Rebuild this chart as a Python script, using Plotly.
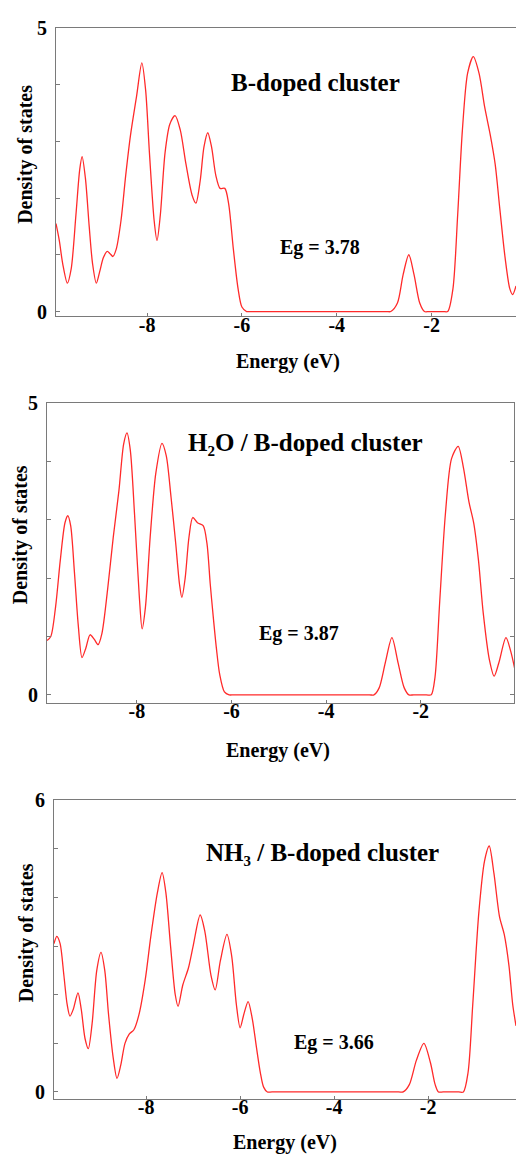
import plotly.graph_objects as go

# ---------------- data ----------------
e1 = [-9.92, -9.85, -9.78, -9.68, -9.60, -9.50, -9.42, -9.37, -9.30, -9.22, -9.15, -9.07,
      -9.00, -8.92, -8.84, -8.78, -8.72, -8.65, -8.55, -8.45, -8.35, -8.22, -8.11, -8.03,
      -7.95, -7.85, -7.79, -7.72, -7.62, -7.52, -7.41, -7.30, -7.18, -7.05, -6.97, -6.88,
      -6.80, -6.72, -6.64, -6.55, -6.46, -6.36, -6.28, -6.18, -6.08, -6.00, -5.90, -5.80,
      -2.96, -2.86, -2.72, -2.60, -2.48, -2.37, -2.25, -2.15, -2.05, -1.76, -1.66, -1.55,
      -1.45, -1.35, -1.24, -1.12, -1.00, -0.88, -0.76, -0.66, -0.56, -0.45, -0.35, -0.29, -0.22]
d1 = [1.55, 1.25, 0.85, 0.50, 0.75, 1.70, 2.50, 2.73, 2.35, 1.50, 0.85, 0.50,
      0.70, 0.95, 1.06, 1.02, 0.97, 1.10, 1.60, 2.40, 3.10, 3.80, 4.38, 3.90,
      2.80, 1.60, 1.25, 1.70, 2.80, 3.30, 3.45, 3.20, 2.60, 2.05, 1.91, 2.30,
      2.90, 3.15, 2.90, 2.40, 2.17, 2.17, 1.90, 1.10, 0.40, 0.08, 0.00, 0.00,
      0.00, 0.00, 0.15, 0.65, 1.00, 0.65, 0.15, 0.00, 0.00, 0.00, 0.00, 0.40,
      1.70, 3.20, 4.20, 4.49, 4.20, 3.60, 3.10, 2.60, 1.80, 0.95, 0.40, 0.30, 0.45]

e2 = [-9.90, -9.82, -9.72, -9.62, -9.52, -9.46, -9.40, -9.32, -9.24, -9.16, -9.08, -8.99,
      -8.90, -8.82, -8.74, -8.62, -8.50, -8.38, -8.28, -8.21, -8.14, -8.05, -7.95, -7.89,
      -7.82, -7.72, -7.60, -7.47, -7.38, -7.28, -7.18, -7.10, -7.05, -6.98, -6.90, -6.82,
      -6.72, -6.60, -6.52, -6.45, -6.39, -6.32, -6.25, -6.15, -6.05, -5.95,
      -3.09, -2.99, -2.88, -2.75, -2.61, -2.48, -2.35, -2.25, -2.15, -1.88, -1.78, -1.70,
      -1.60, -1.48, -1.35, -1.21, -1.10, -0.98, -0.88, -0.78, -0.68, -0.55, -0.45, -0.35,
      -0.20, -0.10, 0.01]
d2 = [0.93, 1.00, 1.50, 2.30, 2.95, 3.07, 2.90, 2.10, 1.20, 0.64, 0.80, 1.03,
      0.95, 0.86, 1.05, 1.80, 2.70, 3.50, 4.30, 4.49, 4.20, 3.10, 1.70, 1.13,
      1.50, 2.70, 3.80, 4.31, 4.10, 3.40, 2.60, 1.90, 1.67, 2.00, 2.70, 3.04,
      2.95, 2.90, 2.60, 1.90, 1.37, 0.80, 0.35, 0.05, 0.00, 0.00,
      0.00, 0.00, 0.12, 0.55, 0.98, 0.55, 0.12, 0.00, 0.00, 0.00, 0.00, 0.30,
      1.60, 3.10, 4.05, 4.26, 3.90, 3.30, 2.94, 2.30, 1.40, 0.60, 0.32, 0.55,
      0.98, 0.75, 0.35]

e3 = [-9.96, -9.90, -9.83, -9.75, -9.68, -9.62, -9.55, -9.45, -9.38, -9.30, -9.23, -9.15,
      -9.05, -8.96, -8.88, -8.80, -8.70, -8.62, -8.54, -8.45, -8.36, -8.26, -8.15, -8.02,
      -7.90, -7.76, -7.66, -7.58, -7.48, -7.38, -7.32, -7.22, -7.10, -7.00, -6.85, -6.75,
      -6.62, -6.53, -6.42, -6.28, -6.18, -6.08, -6.00, -5.92, -5.83, -5.74, -5.65, -5.57,
      -5.50, -5.42, -5.32, -2.63, -2.53, -2.40, -2.25, -2.09, -1.95, -1.85, -1.78, -1.68,
      -1.35, -1.25, -1.15, -1.05, -0.92, -0.80, -0.70, -0.60, -0.48, -0.38, -0.28, -0.20, -0.13]
d3 = [3.05, 3.20, 3.05, 2.40, 1.80, 1.56, 1.70, 2.04, 1.70, 1.10, 0.89, 1.40,
      2.50, 2.87, 2.50, 1.60, 0.70, 0.28, 0.55, 1.00, 1.19, 1.28, 1.60, 2.30,
      3.20, 4.10, 4.51, 4.10, 3.00, 2.00, 1.76, 2.20, 2.55, 3.00, 3.64, 3.30,
      2.40, 2.10, 2.70, 3.24, 2.80, 1.80, 1.32, 1.60, 1.86, 1.50, 0.90, 0.40,
      0.10, 0.00, 0.00, 0.00, 0.00, 0.15, 0.65, 1.00, 0.60, 0.15, 0.00, 0.00,
      0.00, 0.00, 0.40, 1.80, 3.70, 4.75, 5.06, 4.50, 3.60, 3.24, 2.60, 1.80, 1.36]

titles = ["B-doped cluster",
          "H\u2082O / B-doped cluster",
          "NH\u2083 / B-doped cluster"]
gaps = ["Eg = 3.78", "Eg = 3.87", "Eg = 3.66"]
y_max = [5, 5, 6]
x_ticks = [-8, -6, -4, -2]
x_tick_labels = ["-8", "-6", "-4", "-2"]

# ---------------- layout helpers ----------------
W, H = 516, 1163
def px(x):
    return x / W
def py(y):
    return 1 - y / H

# panel geometry in pixels: left, right, top, bottom
panels = [dict(l=56, r=516, t=17, b=310, xr=[-9.92, -0.22], yr=[-0.087, 5], mirror_y=False),
          dict(l=47, r=514, t=398, b=702, xr=[-9.90, -0.03], yr=[-0.135, 5], mirror_y=True),
          dict(l=54, r=516, t=801, b=1104, xr=[-9.96, -0.13], yr=[-0.142, 6], mirror_y=False)]

title_pos = [(315, 73), (305, 438), (322, 854)]
gap_pos = [(320, 240), (299, 632), (334, 1047)]
xtitle_pos = [(288, 356), (278, 750), (285, 1148)]
ytitle_pos = [(26, 146), (20, 532), (26, 936)]

FONT = "Liberation Serif"
AX = "#7a7a7a"
fig = go.Figure()
series = [(e1, d1), (e2, d2), (e3, d3)]

layout = dict(width=W, height=H, margin=dict(l=0, r=0, t=0, b=0),
              paper_bgcolor="white", plot_bgcolor="white", showlegend=False,
              annotations=[])

for i, (p, (ex, dy)) in enumerate(zip(panels, series)):
    n = "" if i == 0 else str(i + 1)
    fig.add_trace(go.Scatter(x=ex, y=dy, mode="lines", xaxis="x" + n, yaxis="y" + n,
                             line=dict(color="#ff2a2a", width=1.3, shape="spline", smoothing=0.8),
                             hoverinfo="skip"))
    layout["xaxis" + n] = dict(domain=[px(p["l"]), px(p["r"])], range=p["xr"], anchor="y" + n,
                               showline=True, linecolor=AX, linewidth=1.2, mirror=True,
                               ticks="inside", ticklen=3, tickcolor=AX,
                               tickvals=x_ticks, ticktext=x_tick_labels,
                               ticklabelstandoff=-10,
                               showgrid=False, zeroline=False,
                               tickfont=dict(family=FONT, size=20, color="black", weight="bold"))
    layout["yaxis" + n] = dict(domain=[py(p["b"]), py(p["t"])], range=p["yr"], anchor="x" + n,
                               showline=True, linecolor=AX, linewidth=1.2,
                               mirror="ticks" if p["mirror_y"] else False,
                               ticks="inside", ticklen=4, tickcolor=AX,
                               tickvals=[0, y_max[i]], ticktext=["0", str(y_max[i])],
                               ticklabelstandoff=4,
                               minor=dict(ticks="inside", ticklen=4, tickcolor=AX, dtick=1,
                                          tick0=0, showgrid=False),
                               showgrid=False, zeroline=False,
                               tickfont=dict(family=FONT, size=20, color="black", weight="bold"))
    layout["annotations"] += [
        dict(text=titles[i], x=px(title_pos[i][0]), y=py(title_pos[i][1]), xref="paper", yref="paper",
             showarrow=False, xanchor="center", yanchor="middle",
             font=dict(family=FONT, size=25, color="black", weight="bold")),
        dict(text=gaps[i], x=px(gap_pos[i][0]), y=py(gap_pos[i][1]), xref="paper", yref="paper",
             showarrow=False, xanchor="center", yanchor="middle",
             font=dict(family=FONT, size=20, color="black", weight="bold")),
        dict(text="Energy (eV)", x=px(xtitle_pos[i][0]), y=py(xtitle_pos[i][1]), xref="paper", yref="paper",
             showarrow=False, xanchor="center", yanchor="middle",
             font=dict(family=FONT, size=20, color="black", weight="bold")),
        dict(text="Density of states", x=px(ytitle_pos[i][0]), y=py(ytitle_pos[i][1]), xref="paper",
             yref="paper", showarrow=False, xanchor="center", yanchor="middle", textangle=-90,
             font=dict(family=FONT, size=20, color="black", weight="bold")),
    ]

fig.update_layout(**layout)
fig.write_html("out.html")
